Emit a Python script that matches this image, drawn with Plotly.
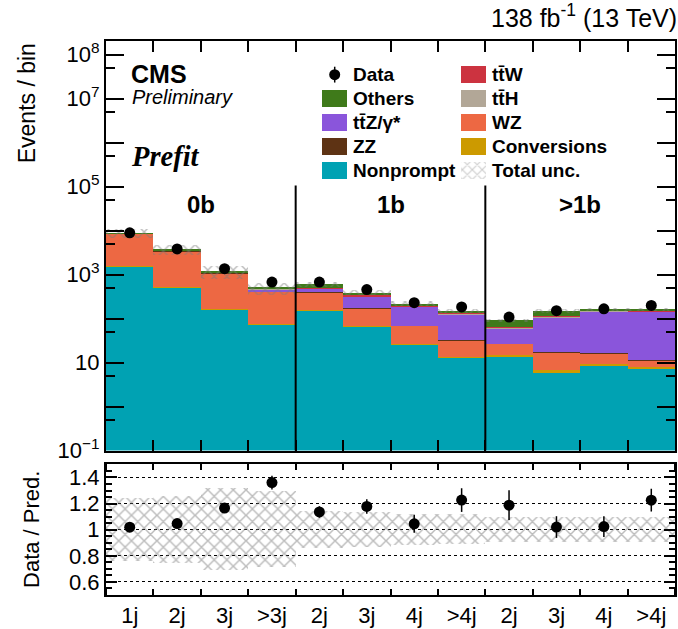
import numpy as np
import plotly.graph_objects as go

# ---- bins -------------------------------------------------------------
bin_labels = ["1j", "2j", "3j", ">3j", "2j", "3j", "4j", ">4j", "2j", "3j", "4j", ">4j"]
region_labels = ["0b", "1b", ">1b"]

# ---- prefit yields per process (events / bin) -------------------------
nonprompt = [1550, 520, 164, 75, 155, 65, 26, 13, 13.8, 6.1, 8.6, 7.5]
conversions = [20, 10, 5, 2, 3, 2, 1, 0.5, 0.8, 0.6, 0.5, 0.3]
wz = [6800, 2900, 900, 340, 230, 105, 41, 18, 12, 10, 6.8, 3.4]
zz = [150, 80, 20, 6, 8, 3, 1, 0.5, 0.3, 0.3, 0.2, 0.1]
ttz = [5, 20, 25, 45, 85, 145, 115, 95, 33, 90, 127, 130]
tth = [2, 3, 3, 3, 5, 6, 6, 6, 2, 5, 6, 6]
ttw = [3, 5, 5, 5, 10, 12, 8, 6, 2, 5, 6, 5]
others = [200, 120, 45, 20, 100, 50, 22, 11, 27, 31, 8, 10]

data_obs = [8900, 3830, 1360, 675, 677, 457, 230, 184, 108, 151, 167, 199]

# total relative uncertainty on the prediction
rel_unc = [0.24, 0.255, 0.315, 0.29, 0.14, 0.135, 0.12, 0.115, 0.095, 0.095, 0.095, 0.095]

C_NP, C_CONV, C_WZ, C_ZZ = "#00A2B3", "#CC9A00", "#ED6843", "#5E3314"
C_TTZ, C_TTH, C_TTW, C_OTH = "#8A55DB", "#B2A797", "#CC3340", "#3F7A1A"
HATCH = "#7A7A7A"

stack = [  # bottom to top
    ("Nonprompt", nonprompt, C_NP),
    ("Conversions", conversions, C_CONV),
    ("WZ", wz, C_WZ),
    ("ZZ", zz, C_ZZ),
    ("tt\u0304Z/\u03b3*", ttz, C_TTZ),
    ("tt\u0304H", tth, C_TTH),
    ("tt\u0304W", ttw, C_TTW),
    ("Others", others, C_OTH),
]

FONT = "Liberation Sans"
nb = len(bin_labels)
xc = np.arange(nb) + 0.5

fig = go.Figure()

# stacked histogram (explicit bases so the uncertainty band can overlay)
floor = 1e-3
base = np.full(nb, floor)
for name, vals, col in stack:
    v = np.asarray(vals, float)
    fig.add_trace(go.Bar(x=xc, y=v, base=base.copy(), width=1.0, name=name,
                         marker=dict(color=col, line=dict(width=0)),
                         xaxis="x", yaxis="y", showlegend=False))
    base = base + v
total = base - floor

u = np.asarray(rel_unc)
hatch = dict(shape="x", fgcolor=HATCH, bgcolor="rgba(0,0,0,0)", size=9, solidity=0.3)

fig.add_trace(go.Bar(x=xc, y=2 * u * total, base=total * (1 - u), width=1.0,
                     marker=dict(color="rgba(0,0,0,0)", line=dict(width=0), pattern=hatch),
                     xaxis="x", yaxis="y", showlegend=False))

obs = np.asarray(data_obs, float)
fig.add_trace(go.Scatter(x=xc, y=obs, mode="markers",
                         marker=dict(color="black", size=11),
                         error_y=dict(type="data", array=np.sqrt(obs), color="black",
                                      thickness=1.5, width=0),
                         xaxis="x", yaxis="y", showlegend=False))

# ratio panel
fig.add_trace(go.Bar(x=xc, y=2 * u, base=1 - u, width=1.0,
                     marker=dict(color="rgba(0,0,0,0)", line=dict(width=0), pattern=hatch),
                     xaxis="x2", yaxis="y2", showlegend=False))
fig.add_trace(go.Scatter(x=xc, y=obs / total, mode="markers",
                         marker=dict(color="black", size=11),
                         error_y=dict(type="data", array=np.sqrt(obs) / total, color="black",
                                      thickness=1.5, width=0),
                         xaxis="x2", yaxis="y2", showlegend=False))

# ---- legend, drawn on a pixel-scaled overlay axis --------------------
PX_L, PX_R, PX_T, PX_B = 106, 677, 41, 601
col1 = [("Data", None), ("Others", C_OTH), ("tt\u0304Z/\u03b3*", C_TTZ), ("ZZ", C_ZZ), ("Nonprompt", C_NP)]
col2 = [("tt\u0304W", C_TTW), ("tt\u0304H", C_TTH), ("WZ", C_WZ), ("Conversions", C_CONV), ("Total unc.", None)]
rows = [75, 99, 123.5, 147.5, 171.5]
sw_w, sw_h = 25, 17
c1x, c2x = 335.5, 475

sw1 = [(r, c) for r, (_, c) in zip(rows, col1) if c]
fig.add_trace(go.Bar(x=[c1x] * len(sw1), y=[sw_h] * len(sw1), base=[r - sw_h / 2 for r, _ in sw1],
                     width=sw_w, marker=dict(color=[c for _, c in sw1], line=dict(width=0)),
                     xaxis="x3", yaxis="y3", showlegend=False))
sw2 = [(r, c) for r, (_, c) in zip(rows, col2) if c]
fig.add_trace(go.Bar(x=[c2x] * len(sw2), y=[sw_h] * len(sw2), base=[r - sw_h / 2 for r, _ in sw2],
                     width=sw_w, marker=dict(color=[c for _, c in sw2], line=dict(width=0)),
                     xaxis="x3", yaxis="y3", showlegend=False))
fig.add_trace(go.Bar(x=[c2x], y=[sw_h], base=[rows[4] - sw_h / 2], width=sw_w,
                     marker=dict(color="rgba(0,0,0,0)", line=dict(width=0),
                                 pattern=dict(shape="x", fgcolor="#9A9A9A", bgcolor="rgba(0,0,0,0)",
                                              size=7, solidity=0.3)),
                     xaxis="x3", yaxis="y3", showlegend=False))
fig.add_trace(go.Scatter(x=[c1x], y=[rows[0]], mode="markers",
                         marker=dict(color="black", size=11),
                         error_y=dict(type="constant", value=8, color="black", thickness=1.5, width=0),
                         xaxis="x3", yaxis="y3", showlegend=False))

LEG_FONT = dict(family=FONT, size=19, color="black", weight="bold")
annotations = []
for (txt, _), r in zip(col1, rows):
    annotations.append(dict(text=txt, x=352, y=r, xref="x3", yref="y3", xanchor="left",
                            yanchor="middle", showarrow=False, font=LEG_FONT))
for (txt, _), r in zip(col2, rows):
    annotations.append(dict(text=txt, x=491, y=r, xref="x3", yref="y3", xanchor="left",
                            yanchor="middle", showarrow=False, font=LEG_FONT))

# labels
annotations += [
    dict(text="CMS", x=129, y=74, xref="x3", yref="y3", xanchor="left", yanchor="middle",
         showarrow=False, font=dict(family=FONT, size=25, color="black", weight="bold")),
    dict(text="Preliminary", x=130, y=98, xref="x3", yref="y3", xanchor="left", yanchor="middle",
         showarrow=False, font=dict(family=FONT, size=20, color="black", style="italic")),
    dict(text="Prefit", x=129, y=158, xref="x3", yref="y3", xanchor="left", yanchor="middle",
         showarrow=False, font=dict(family="Liberation Serif", size=28.5, color="black",
                                    weight="bold", style="italic")),
    dict(text="138 fb<sup>-1</sup> (13 TeV)", x=1, y=(PX_B - 16) / (PX_B - PX_T), xref="paper",
         yref="paper", xanchor="right", yanchor="middle", xshift=4, showarrow=False,
         font=dict(family=FONT, size=25, color="black")),
    dict(text="Events / bin", x=(27 - PX_L) / (PX_R - PX_L), y=1, xref="paper", yref="paper",
         xanchor="center", yanchor="top", textangle=-90, showarrow=False,
         font=dict(family=FONT, size=23, color="black")),
    dict(text="Data / Pred.", x=(31 - PX_L) / (PX_R - PX_L), y=535, xref="paper", yref="y3",
         xanchor="center", yanchor="middle", textangle=-90, showarrow=False,
         font=dict(family=FONT, size=22, color="black")),
]
for i, lab in enumerate(region_labels):
    annotations.append(dict(text=lab, x=4 * i + 2, y=206, xref="x", yref="y3",
                            xanchor="center", yanchor="middle", showarrow=False,
                            font=dict(family=FONT, size=24, color="black", weight="bold")))

# region separators
shapes = [dict(type="line", xref="x", yref="y domain", x0=b, x1=b, y0=0, y1=0.647,
               line=dict(color="black", width=2)) for b in (4, 8)]

main_bottom = (PX_B - 455) / (PX_B - PX_T)
ratio_top = (PX_B - 469) / (PX_B - PX_T)

decades = list(range(-1, 9))
dec_text = {-1: "10<sup>\u22121</sup>", 1: "10", 3: "10<sup>3</sup>", 5: "10<sup>5</sup>",
            7: "10<sup>7</sup>", 8: "10<sup>8</sup>"}

axis_common = dict(showline=True, linecolor="black", linewidth=2, mirror="ticks",
                   tickcolor="black", tickwidth=1.5, ticks="inside", zeroline=False,
                   tickfont=dict(family=FONT, size=22, color="black"))

fig.update_layout(
    width=678, height=629,
    margin=dict(l=PX_L, r=678 - PX_R, t=PX_T, b=629 - PX_B),
    paper_bgcolor="white", plot_bgcolor="rgba(0,0,0,0)",
    barmode="overlay", bargap=0, showlegend=False,
    annotations=annotations, shapes=shapes,
    xaxis=dict(domain=[0, 1], range=[0, nb], anchor="y", tickvals=list(range(nb + 1)),
               showticklabels=False, ticklen=11, showgrid=False, **axis_common),
    yaxis=dict(domain=[main_bottom, 1], type="log", range=[-1, 8.31], anchor="x",
               tickvals=[10.0 ** d for d in decades],
               ticktext=[dec_text.get(d, "") for d in decades],
               ticklen=18, showgrid=False,
               minor=dict(tickvals=[5 * 10.0 ** d for d in decades], ticks="inside",
                          ticklen=9, tickcolor="black", tickwidth=1.5, showgrid=False),
               **axis_common),
    xaxis2=dict(domain=[0, 1], range=[0, nb], anchor="y2", tickvals=list(xc), ticktext=bin_labels,
                showgrid=False, ticklen=0,
                minor=dict(tickvals=list(range(nb + 1)), ticks="inside", ticklen=6,
                           tickcolor="black", tickwidth=1.5, showgrid=False),
                **{k: v for k, v in axis_common.items() if k != "ticks"}, ticks=""),
    yaxis2=dict(domain=[0, ratio_top], range=[0.5, 1.5], anchor="x2",
                tickvals=[0.6, 0.8, 1.0, 1.2, 1.4], ticktext=["0.6", "0.8", "1", "1.2", "1.4"],
                ticklen=11, showgrid=True, gridcolor="black", gridwidth=1, griddash="dot",
                minor=dict(dtick=0.05, ticks="inside", ticklen=6, tickcolor="black",
                           tickwidth=1.5, showgrid=False),
                **axis_common),
    xaxis3=dict(domain=[0, 1], range=[PX_L, PX_R], anchor="y3", visible=False),
    yaxis3=dict(domain=[0, 1], range=[PX_B, PX_T], anchor="x3", visible=False),
)

fig.write_html("out.html")
